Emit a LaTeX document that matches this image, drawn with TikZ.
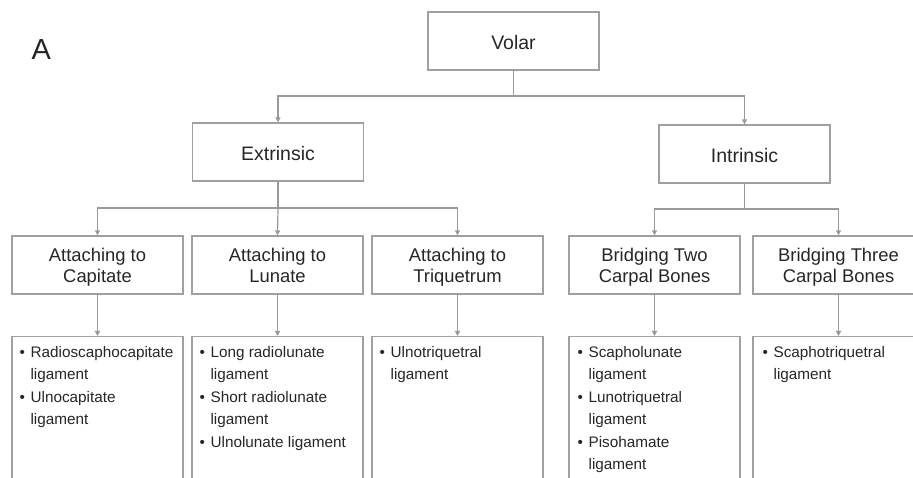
\documentclass[tikz,border=0pt]{standalone}
\usepackage{fontspec}
\setmainfont{Liberation Sans}
\usetikzlibrary{arrows.meta}
\definecolor{linegray}{HTML}{9A9A9A}
\definecolor{boxgray}{HTML}{A0A0A0}
\definecolor{ink}{HTML}{262626}
\newcommand\bul{\makebox[11pt][l]{\textbullet}}
\newcommand\ind{\hspace*{11pt}}
% two centred lines with fixed vertical metrics
\newcommand\twolines[2]{\rule{0pt}{20pt}#1\\#2\rule[-5pt]{0pt}{5pt}}
\begin{document}
\begin{tikzpicture}[x=1pt,y=-1pt,
  box/.style={draw=boxgray, line width=1.2pt, minimum width=171pt, minimum height=58pt,
    inner sep=0pt, text=ink, align=center},
  topbox/.style={box, font=\fontsize{19.5}{22}\selectfont, text height=20pt, text depth=2.4pt},
  midbox/.style={box, font=\fontsize{18.4}{21}\selectfont},
  listbox/.style={draw=boxgray, line width=1.2pt, minimum width=171pt, minimum height=200pt,
    inner sep=0pt, anchor=north},
  listtext/.style={anchor=base west, inner sep=0pt, text=ink,
    font=\fontsize{15.3}{22.4}\selectfont},
  conn/.style={draw=linegray, line width=1.2pt, -{Triangle[length=5pt,width=5pt]}},
  bus/.style={draw=linegray, line width=1.2pt}]
\useasboundingbox (0,0) rectangle (913,478);

% panel letter
\node[text=ink, font=\fontsize{29}{30}\selectfont, anchor=base west, inner sep=0pt] (letter) at (31.5,60) {A};

% first two levels
\node[topbox] (volar) at (513.5,41) {Volar};
\node[topbox] (ext) at (278,152) {Extrinsic};
\node[topbox] (int) at (744.5,154) {Intrinsic};

\node[midbox] (cap) at (97.5,265) {\twolines{Attaching to}{Capitate}};
\node[midbox] (lun) at (277.5,265) {\twolines{Attaching to}{Lunate}};
\node[midbox] (tri) at (457.5,265) {\twolines{Attaching to}{Triquetrum}};
\node[midbox] (two) at (654.5,265) {\twolines{Bridging Two}{Carpal Bones}};
\node[midbox] (three) at (838.5,265) {\twolines{Bridging Three}{Carpal Bones}};

% ligament lists
\node[listbox] (capL) at (97.5,336) {};
\node[listbox] (lunL) at (277.5,336) {};
\node[listbox] (triL) at (457.5,336) {};
\node[listbox] (twoL) at (654.5,336) {};
\node[listbox] (threeL) at (838.5,336) {};

\node[listtext] (capT) at ([xshift=8pt,yshift=-21.5pt]capL.north west)
  {\parbox[t]{165pt}{\raggedright\bul Radioscaphocapitate\\\ind ligament\\\bul Ulnocapitate\\\ind ligament}};
\node[listtext] (lunT) at ([xshift=8pt,yshift=-21.5pt]lunL.north west)
  {\parbox[t]{165pt}{\raggedright\bul Long radiolunate\\\ind ligament\\\bul Short radiolunate\\\ind ligament\\\bul Ulnolunate ligament}};
\node[listtext] (triT) at ([xshift=8pt,yshift=-21.5pt]triL.north west)
  {\parbox[t]{165pt}{\raggedright\bul Ulnotriquetral\\\ind ligament}};
\node[listtext] (twoT) at ([xshift=9pt,yshift=-21.5pt]twoL.north west)
  {\parbox[t]{165pt}{\raggedright\bul Scapholunate\\\ind ligament\\\bul Lunotriquetral\\\ind ligament\\\bul Pisohamate\\\ind ligament}};
\node[listtext] (threeT) at ([xshift=10pt,yshift=-21.5pt]threeL.north west)
  {\parbox[t]{165pt}{\raggedright\bul Scaphotriquetral\\\ind ligament}};

% connectors
\coordinate (vbus) at (513.5,96);
\coordinate (ebus) at (278,208);
\coordinate (ibus) at (744.5,209);

\draw[bus] (volar.south) -- (vbus);
\draw[conn] (vbus) -| (ext.north);
\draw[conn] (vbus) -| (int.north);

\draw[bus] (ext.south) -- (ebus);
\draw[conn] (ebus) -| (cap.north);
\draw[conn] (ebus) -- (lun.north);
\draw[conn] (ebus) -| (tri.north);

\draw[bus] (int.south) -- (ibus);
\draw[conn] (ibus) -| (two.north);
\draw[conn] (ibus) -| (three.north);

\draw[conn] (cap.south) -- (capL.north);
\draw[conn] (lun.south) -- (lunL.north);
\draw[conn] (tri.south) -- (triL.north);
\draw[conn] (two.south) -- (twoL.north);
\draw[conn] (three.south) -- (threeL.north);
\end{tikzpicture}
\end{document}
